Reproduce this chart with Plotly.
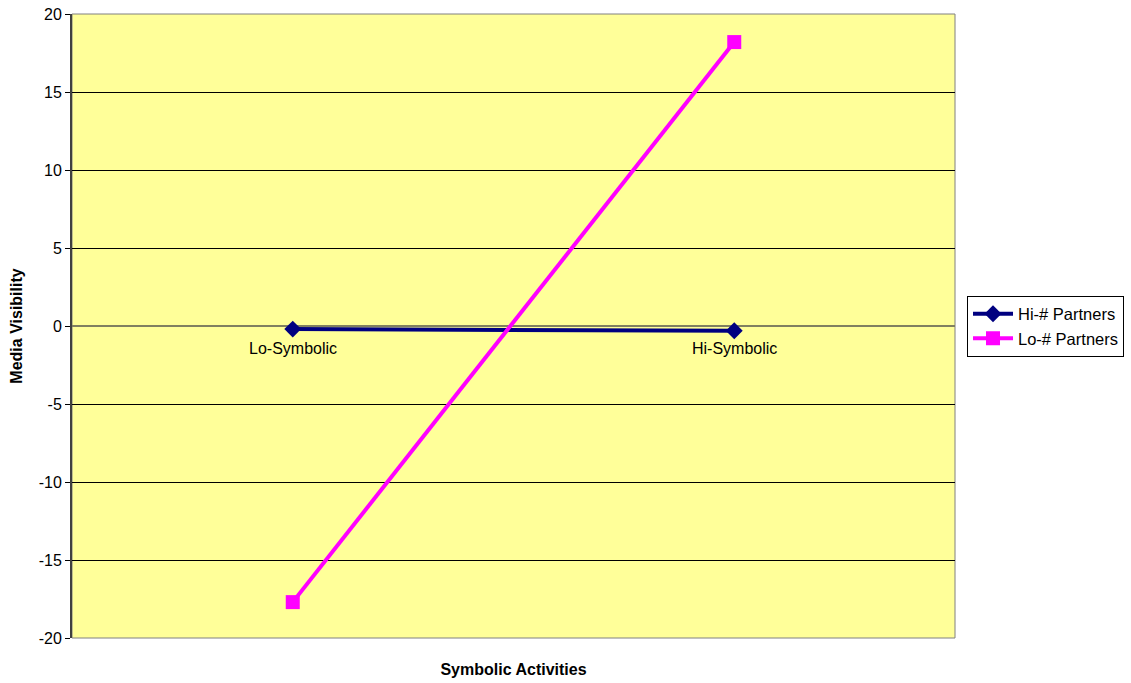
import plotly.graph_objects as go

# Interaction plot: media visibility by symbolic activity level
categories = ["Lo-Symbolic", "Hi-Symbolic"]
hi_partners = [-0.2, -0.3]
lo_partners = [-17.7, 18.2]
y_ticks = [-20, -15, -10, -5, 0, 5, 10, 15, 20]
y_tick_text = [str(v) for v in y_ticks]  # plain hyphen minus signs

fig = go.Figure()
fig.add_trace(go.Scatter(
    x=categories, y=hi_partners, name="Hi-# Partners", mode="lines+markers",
    line=dict(color="#000080", width=4),
    marker=dict(symbol="diamond", size=13, color="#000080"),
))
fig.add_trace(go.Scatter(
    x=categories, y=lo_partners, name="Lo-# Partners", mode="lines+markers",
    line=dict(color="#FF00FF", width=4),
    marker=dict(symbol="square", size=14, color="#FF00FF"),
))

# Category labels sit just below the zero line
for c in categories:
    fig.add_annotation(x=c, y=0, text=c, showarrow=False, yanchor="top",
                       yshift=-12, font=dict(family="Arial", size=16, color="#000000"))

# Plot-area border
fig.add_shape(type="rect", xref="paper", yref="paper", x0=0, y0=0, x1=1, y1=1,
              line=dict(color="#808080", width=1), layer="below")

fig.update_layout(
    width=1131, height=683,
    margin=dict(l=72, r=176, t=14, b=45, autoexpand=False),
    paper_bgcolor="white", plot_bgcolor="#FFFF99",
    font=dict(family="Arial", size=16, color="#000000"),
    xaxis=dict(
        type="category", range=[-0.5, 1.5], showticklabels=False, showgrid=False,
        zeroline=False, showline=False, ticks="", automargin=False,
        title=dict(text="<b>Symbolic Activities</b>", font=dict(size=16), standoff=25),
    ),
    yaxis=dict(
        range=[-20, 20], tickvals=y_ticks, ticktext=y_tick_text, automargin=False,
        showgrid=True, gridcolor="#000000", gridwidth=1,
        zeroline=True, zerolinecolor="#808060", zerolinewidth=2,
        showline=True, linecolor="#404040", linewidth=2,
        ticks="outside", ticklen=5, tickcolor="#000000",
        tickfont=dict(size=16),
        title=dict(text="<b>Media Visibility</b>", font=dict(size=16), standoff=12),
    ),
    legend=dict(
        x=1.0136, y=0.5, xanchor="left", yanchor="middle",
        bordercolor="#000000", borderwidth=1, bgcolor="white",
        font=dict(family="Arial", size=16.5), tracegroupgap=0, itemwidth=40,
    ),
)

fig.write_html("out.html")
